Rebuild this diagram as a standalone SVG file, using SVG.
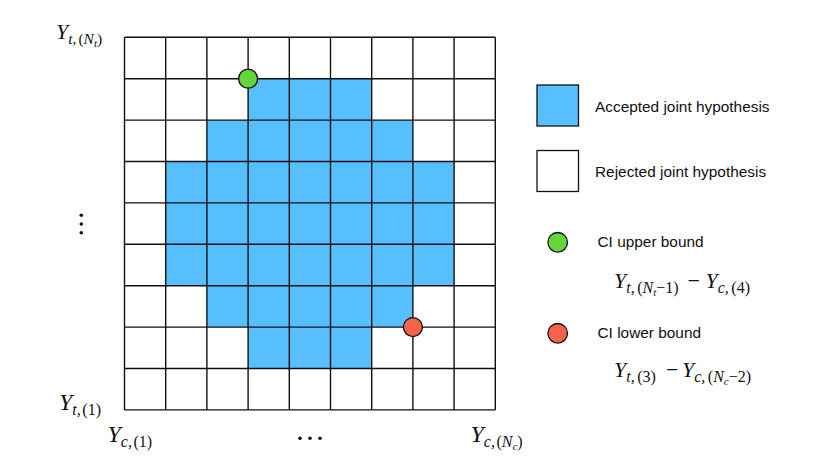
<svg xmlns="http://www.w3.org/2000/svg" width="830" height="467" viewBox="0 0 830 467">
<style>
.acc{fill:#58BFFF}
.grid{fill:none;stroke:#111;stroke-width:1.4}
.lg{font-family:"Liberation Sans",Arial,sans-serif;font-size:15.4px;fill:#111}
.m{font-family:"Liberation Serif","Times New Roman",serif;font-style:italic;font-size:22px;fill:#111}
.b{font-size:24px}
.s{font-size:16px}
.ss{font-size:11px}
.up{font-style:normal}
.dot{fill:#111}
</style>
<rect width="830" height="467" fill="#fff"/>
<g id="grid">
<rect class="acc" x="248.1" y="78.7" width="123.6" height="41.4"/>
<rect class="acc" x="206.9" y="120.1" width="206" height="41.4"/>
<rect class="acc" x="165.7" y="161.5" width="288.4" height="124.2"/>
<rect class="acc" x="206.9" y="285.7" width="206" height="41.4"/>
<rect class="acc" x="248.1" y="327.1" width="123.6" height="41.4"/>
<path class="grid" d="M124.5 37.3V409.9M165.7 37.3V409.9M206.9 37.3V409.9M248.1 37.3V409.9M289.3 37.3V409.9M330.5 37.3V409.9M371.7 37.3V409.9M412.9 37.3V409.9M454.1 37.3V409.9M495.3 37.3V409.9M124.5 37.3H495.3M124.5 78.7H495.3M124.5 120.1H495.3M124.5 161.5H495.3M124.5 202.9H495.3M124.5 244.3H495.3M124.5 285.7H495.3M124.5 327.1H495.3M124.5 368.5H495.3M124.5 409.9H495.3"/>
</g>
<g id="upper-point"><circle cx="248.1" cy="78.7" r="9.5" fill="#62D63A" stroke="#111" stroke-width="1.3"/></g>
<g id="lower-point"><circle cx="412.9" cy="327.1" r="9.5" fill="#F8614C" stroke="#111" stroke-width="1.3"/></g>
<g id="axis-labels">
<text class="m" x="56" y="38.5">Y<tspan style="font-size:15.5px" dy="5">t,</tspan><tspan class="up" style="font-size:15.5px" dx="2">(</tspan><tspan style="font-size:15.5px">N</tspan><tspan class="ss" dy="3">t</tspan><tspan class="up" style="font-size:15.5px" dy="-3">)</tspan></text>
<text class="m b" x="59" y="410">Y<tspan dy="5" style="font-size:16px">t,</tspan><tspan class="up" dx="1.5" style="font-size:16px">(1)</tspan></text>
<text class="m b" x="107.5" y="441.5">Y<tspan dy="5" style="font-size:16px">c,</tspan><tspan class="up" dx="1.5" style="font-size:16px">(1)</tspan></text>
<text class="m b" x="470.5" y="441.5">Y<tspan dy="5" style="font-size:16px">c,</tspan><tspan class="up" dx="1.5" style="font-size:16px">(</tspan><tspan style="font-size:16px">N</tspan><tspan class="ss" dy="3">c</tspan><tspan class="up" dy="-3" style="font-size:16px">)</tspan></text>
<circle class="dot" cx="81.3" cy="215.3" r="1.8"/>
<circle class="dot" cx="81.3" cy="224" r="1.8"/>
<circle class="dot" cx="81.3" cy="232.7" r="1.8"/>
<circle class="dot" cx="300" cy="438.3" r="1.8"/>
<circle class="dot" cx="310" cy="438.3" r="1.8"/>
<circle class="dot" cx="320" cy="438.3" r="1.8"/>
</g>
<g id="legend-accepted">
<rect x="537" y="85" width="41.5" height="41" class="acc" stroke="#111" stroke-width="1.3"/>
<text class="lg" x="595" y="111.5">Accepted joint hypothesis</text>
</g>
<g id="legend-rejected">
<rect x="537" y="150.5" width="41.5" height="41" fill="#fff" stroke="#111" stroke-width="1.3"/>
<text class="lg" x="595" y="177">Rejected joint hypothesis</text>
</g>
<g id="legend-upper">
<circle cx="557.7" cy="242.3" r="9.8" fill="#62D63A" stroke="#111" stroke-width="1.3"/>
<text class="lg" x="597.5" y="246.8">CI upper bound</text>
<text class="m" x="614" y="287.5">Y<tspan class="s" dy="5">t,</tspan><tspan class="s up" dx="2.5">(</tspan><tspan class="s">N</tspan><tspan class="ss" dy="3">t</tspan><tspan class="s up" dy="-3">−1)</tspan></text>
<text class="m up" x="687.5" y="287.5">−</text>
<text class="m" x="705.5" y="287.5">Y<tspan class="s" dy="5">c,</tspan><tspan class="s up" dx="2.5">(4)</tspan></text>
</g>
<g id="legend-lower">
<circle cx="557.7" cy="333.3" r="9.8" fill="#F8614C" stroke="#111" stroke-width="1.3"/>
<text class="lg" x="597.5" y="338.3">CI lower bound</text>
<text class="m" x="614" y="377">Y<tspan class="s" dy="5">t,</tspan><tspan class="s up" dx="2.5">(3)</tspan></text>
<text class="m up" x="666" y="377">−</text>
<text class="m" x="682" y="377">Y<tspan class="s" dy="5">c,</tspan><tspan class="s up" dx="2.5">(</tspan><tspan class="s">N</tspan><tspan class="ss" dy="3">c</tspan><tspan class="s up" dy="-3">−2)</tspan></text>
</g>
</svg>
